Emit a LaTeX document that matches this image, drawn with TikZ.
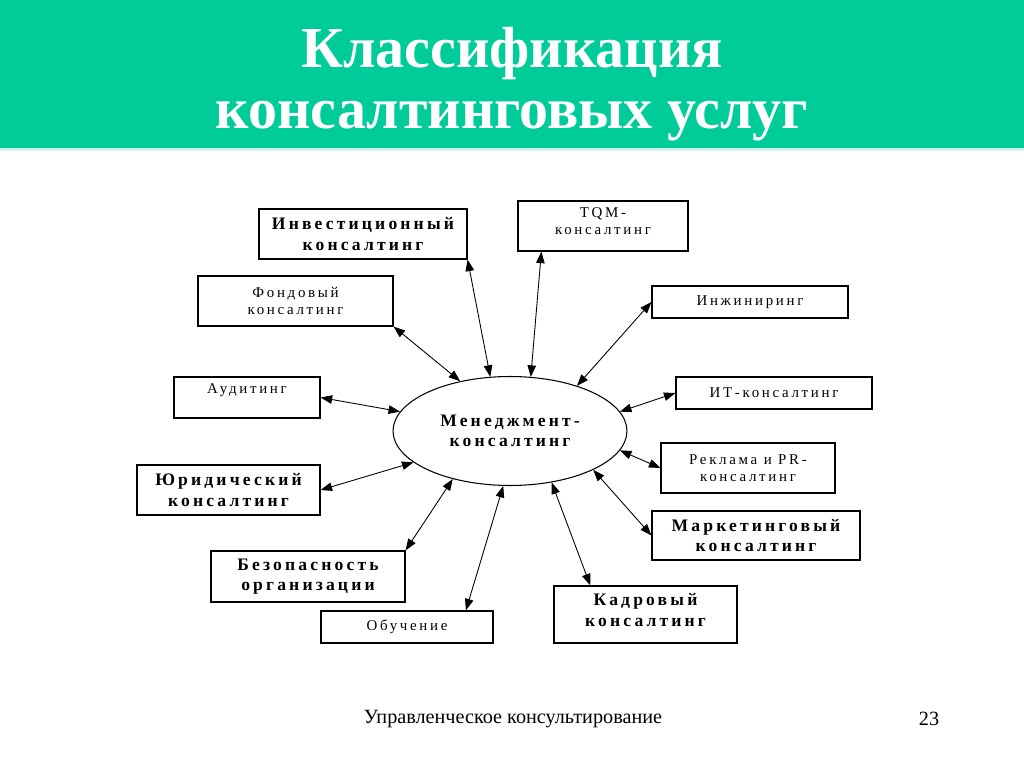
\documentclass[tikz,border=0pt]{standalone}
\usepackage{fontspec}
\setmainfont{Liberation Serif}
\newfontfamily\boxfont[LetterSpace=18]{Liberation Serif}
\usetikzlibrary{arrows.meta, calc, shapes.geometric}
\definecolor{headgreen}{RGB}{0,204,153}
\definecolor{headline}{RGB}{205,250,235}

\begin{document}
\begin{tikzpicture}[
        x=0.02cm, y=-0.02cm,
        svcbox/.style={rectangle, draw=black, fill=white, line width=0.7pt, align=center, inner sep=1pt, font=\boxfont\fontsize{8.5}{10}\selectfont},
        svcbold/.style={svcbox, font=\boxfont\bfseries\fontsize{10}{11.5}\selectfont},
        hub/.style={ellipse, draw=black, line width=0.6pt, minimum width=4.68cm, minimum height=2.18cm, inner sep=0pt, align=center, font=\boxfont\bfseries\fontsize{10}{11.5}\selectfont},
        link/.style={{Triangle[length=2.3mm, width=1.7mm]}-{Triangle[length=2.3mm, width=1.7mm]}, line width=0.5pt, color=black}
    ]
        \useasboundingbox (0,0) rectangle (1024,767);
        % Heading
        \fill[headgreen] (0,0) rectangle (1024,148);
        \fill[headline] (0,148) rectangle (1024,151);
        \node[text=white, font=\bfseries\fontsize{33}{35}\selectfont, align=center] (title) at (512,84) {Классификация\\консалтинговых услуг};

        % Centre
        \node[hub] (mc) at (510,431) {Менеджмент-\\консалтинг};

        % Upper boxes
        \node[svcbold, minimum width=4.16cm, minimum height=1.0cm] (inv) at (363,234) {Инвестиционный\\консалтинг};
        \node[svcbox, minimum width=3.4cm, minimum height=1.0cm, text depth=0.2cm] (tqm) at (603,226) {TQM-\\консалтинг};
        \node[svcbox, minimum width=3.9cm, minimum height=1.0cm] (fond) at (295.5,301) {Фондовый\\консалтинг};
        \node[svcbox, minimum width=3.92cm, minimum height=0.64cm] (inzh) at (750,302) {Инжиниринг};

        % Side boxes
        \node[svcbox, minimum width=2.92cm, minimum height=0.82cm, text depth=0.34cm] (aud) at (247,397.5) {Аудитинг};
        \node[svcbox, minimum width=3.92cm, minimum height=0.64cm] (it) at (774,393) {ИТ-консалтинг};
        \node[svcbox, minimum width=3.48cm, minimum height=1.0cm] (rek) at (748,468) {Реклама и PR-\\консалтинг};
        \node[svcbold, minimum width=3.66cm, minimum height=1.0cm] (jur) at (228.5,490) {Юридический\\консалтинг};

        % Lower boxes
        \node[svcbold, minimum width=4.16cm, minimum height=0.98cm] (mark) at (756,535.5) {Маркетинговый\\консалтинг};
        \node[svcbold, minimum width=3.88cm, minimum height=1.02cm] (bez) at (308,576.5) {Безопасность\\организации};
        \node[svcbox, minimum width=3.44cm, minimum height=0.64cm] (obu) at (407,627) {Обучение};
        \node[svcbold, minimum width=3.66cm, minimum height=1.14cm, text depth=0.18cm] (kadr) at (645.5,614.5) {Кадровый\\консалтинг};

        % Links
        \draw[link] (inv.south east) -- (mc.110);
        \draw[link] ($(tqm.south west)!0.14!(tqm.south east)$) -- (mc.69);
        \draw[link] (fond.south east) -- (mc.135);
        \draw[link] (inzh.west) -- (mc.34);
        \draw[link] (aud.east) -- (mc.170);
        \draw[link] (it.west) -- (mc.10);
        \draw[link] (rek.west) -- (mc.-10);
        \draw[link] (mark.west) -- (mc.-25);
        \draw[link] ($(kadr.north west)!0.2!(kadr.north east)$) -- (mc.-51);
        \draw[link] ($(obu.north west)!0.84!(obu.north east)$) -- (mc.-97);
        \draw[link] (bez.north east) -- (mc.-140);
        \draw[link] (jur.east) -- (mc.-162);

        % Footer
        \node[font=\fontsize{11.5}{13}\selectfont] (foot) at (513,719) {Управленческое консультирование};
        \node[font=\fontsize{11.5}{13}\selectfont] (page) at (929,719) {23};
    \end{tikzpicture}
\end{document}
